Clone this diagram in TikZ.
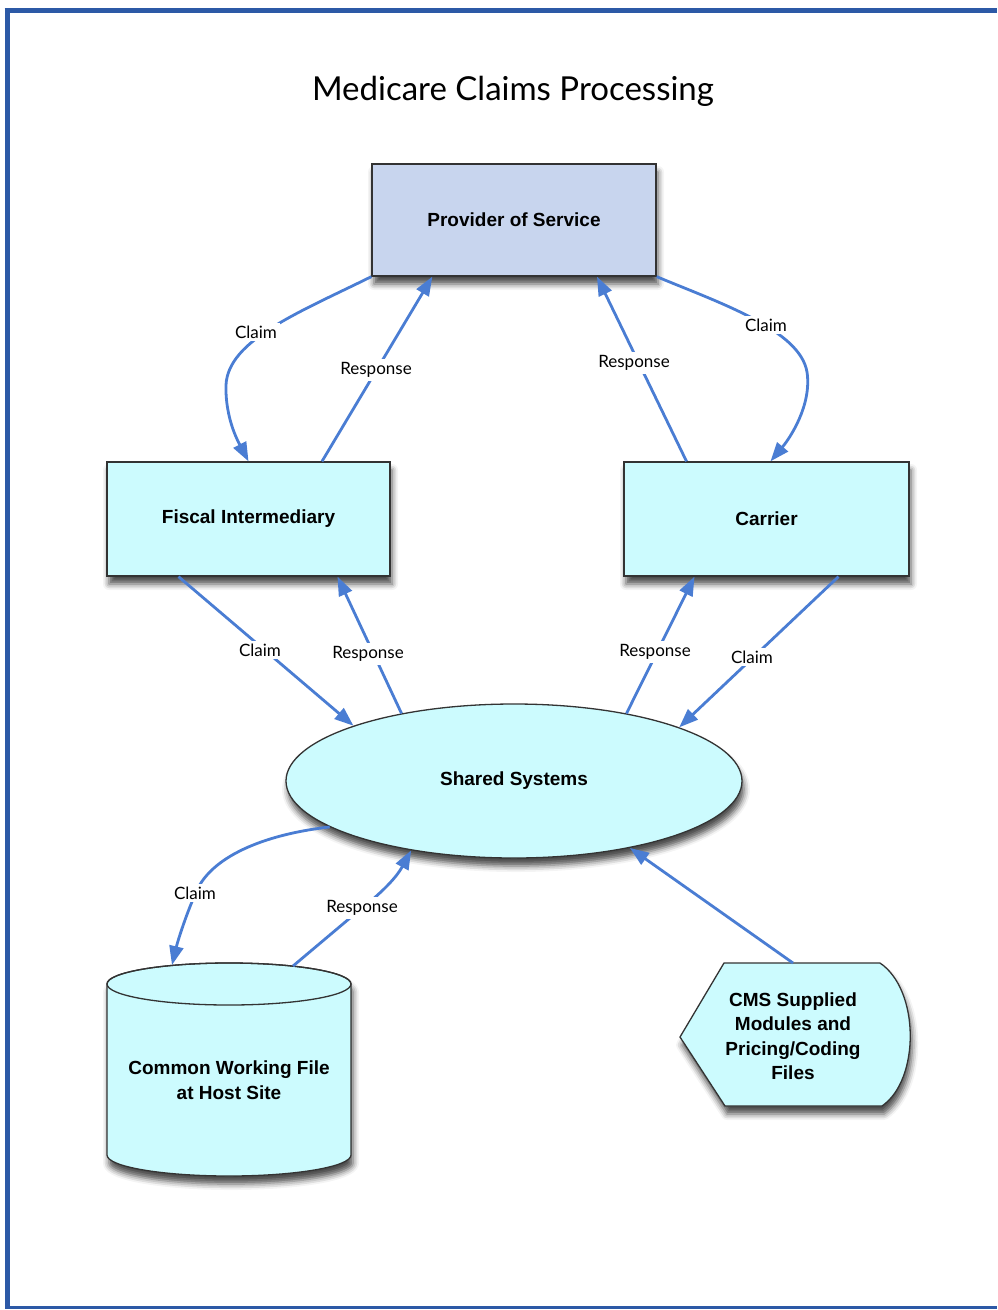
\documentclass[tikz,border=0pt]{standalone}
\usepackage{fontspec}
\setmainfont{Liberation Sans}
\newfontfamily\labfont{Lato}
\usetikzlibrary{arrows.meta,shapes.geometric,shadows,shadows.blur,calc}
\definecolor{cyanfill}{HTML}{CCFBFE}
\definecolor{posfill}{HTML}{C8D5EE}
\definecolor{arrowblue}{HTML}{4A7DD3}
\definecolor{frameblue}{HTML}{2C59A6}
\tikzset{
  myshadow/.style={blur shadow={shadow xshift=2pt,shadow yshift=-8pt,shadow blur radius=6pt,shadow opacity=70}},
  boxnode/.style={draw=black!80, line width=1.3pt, fill=cyanfill, inner sep=0pt,
     font=\bfseries\fontsize{19}{22}\selectfont, myshadow},
  shapeline/.style={draw=black!80, line width=1.3pt, fill=cyanfill},
  plain/.style={font=\bfseries\fontsize{19}{24.5}\selectfont, align=center, inner sep=0pt},
  arr/.style={draw=arrowblue, line width=2.8pt, -{Triangle[length=19pt,width=14pt]}},
  lab/.style={font=\labfont\fontsize{17}{20}\selectfont, fill=white, inner sep=3pt},
  frameline/.style={draw=frameblue, line width=5pt}
}
\begin{document}
\begin{tikzpicture}[x=1pt,y=1pt]
\useasboundingbox (0,0) rectangle (997,-1310);
% frame
\draw[frameline] (4.5,-10) -- (997,-10);
\draw[frameline] (7,-10) -- (7,-1308);
\draw[draw=frameblue, line width=3pt] (5,-1307.5) -- (997,-1307.5);
% title
\node (title) at (513,-91) {\labfont\fontsize{33}{40}\selectfont Medicare Claims Processing};
% nodes
\node[boxnode, fill=posfill, minimum width=284pt, minimum height=112pt] (pos) at (514,-220) {Provider of Service};
\node[boxnode, minimum width=283pt, minimum height=114pt] (fi) at (248.5,-519) {Fiscal Intermediary};
\node[boxnode, minimum width=285pt, minimum height=114pt] (car) at (766.5,-519) {Carrier};
\node[boxnode, ellipse, minimum width=456pt, minimum height=154pt] (ss) at (514,-781) {Shared Systems};
% cylinder
\path[shapeline, myshadow] (107,-984) -- (107,-1155)
   arc[start angle=180,end angle=360,x radius=122,y radius=21] -- (351,-984)
   arc[start angle=0,end angle=180,x radius=122,y radius=21] -- cycle;
\draw[draw=black!80, line width=1.3pt] (229,-984) ellipse [x radius=122, y radius=21];
\node[plain] (cwf) at (229,-1080) {Common Working File\\at Host Site};
\coordinate (cwfclaim) at (172,-965);
\coordinate (cwfresp) at (293,-966);
% CMS display shape
\path[shapeline, myshadow] (680,-1037) -- (724,-963) -- (880,-963)
   .. controls (920,-990) and (920,-1080) .. (882,-1106) -- (725,-1106) -- cycle;
\node[plain] (cms) at (793,-1036) {CMS Supplied\\Modules and\\Pricing/Coding\\Files};
\coordinate (cmstop) at (793,-963);
% connectors
\draw[arr] (pos.south west) .. controls (300,-312) and (228,-340) .. (226,-385)
   .. controls (225,-420) and (240,-445) .. (fi.north);
\draw[arr] ($(fi.north)+(73.5,0)$) -- ($(pos.south west)+(61,0)$);
\draw[arr] ($(car.north)+(-80,0)$) -- ($(pos.south)+(83,0)$);
\draw[arr] (pos.south east) .. controls (720,-303) and (800,-330) .. (807,-372)
   .. controls (812,-405) and (790,-438) .. ($(car.north)+(4,0)$);
\draw[arr] ($(fi.south)+(-70,0)$) -- (ss.161);
\draw[arr] (ss.149) -- ($(fi.south)+(89,0)$);
\draw[arr] (ss.31) -- ($(car.south)+(-72,0)$);
\draw[arr] ($(car.south)+(72,0)$) -- (ss.18);
\draw[arr] (ss.194) .. controls (260,-835) and (212,-858) .. (197,-890)
   .. controls (187,-912) and (178,-940) .. (cwfclaim);
\draw[arr] (cwfresp) -- (350,-918) .. controls (378,-896) and (395,-880) .. (ss.214);
\draw[arr] (cmstop) -- (ss.330);
% labels
\node[lab] (l1) at (256,-332) {Claim};
\node[lab] (l2) at (376,-370) {Response};
\node[lab] (l3) at (634,-363) {Response};
\node[lab] (l4) at (766,-325) {Claim};
\node[lab] (l5) at (260,-650) {Claim};
\node[lab] (l6) at (368,-654) {Response};
\node[lab] (l7) at (655,-652) {Response};
\node[lab] (l8) at (752,-657) {Claim};
\node[lab] (l9) at (195,-893) {Claim};
\node[lab] (l10) at (362,-908) {Response};
\end{tikzpicture}
\end{document}
